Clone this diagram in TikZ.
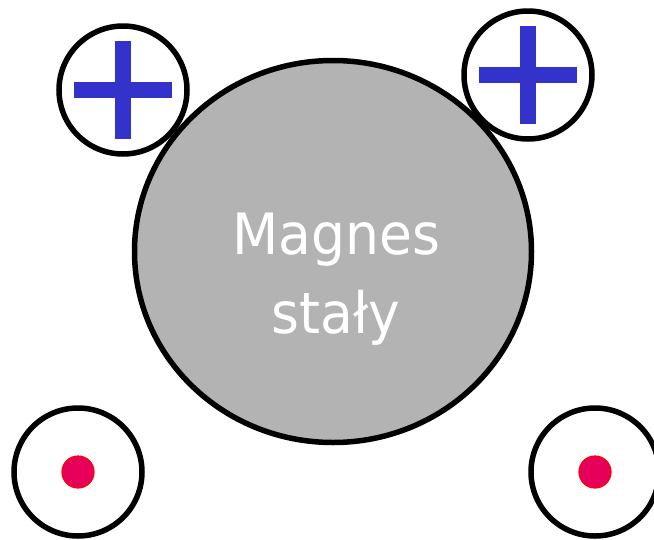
\documentclass[tikz,border=0pt]{standalone}
\usepackage{fontspec}
\newfontfamily\napisfont[FakeStretch=0.94]{DejaVu Sans}
\usetikzlibrary{shapes.geometric}
\definecolor{magszary}{RGB}{179,179,179}
\definecolor{plusnieb}{RGB}{51,51,204}
\definecolor{kropka}{RGB}{230,0,90}
\begin{document}
\begin{tikzpicture}[x=1pt,y=-1pt,
    magnes/.style={ellipse,draw,line width=5.5pt,fill=magszary,minimum width=397pt,minimum height=382pt,inner sep=0pt},
    ring/.style={circle,draw,line width=5.5pt,fill=white,minimum size=128pt,inner sep=0pt},
    dot/.style={circle,draw=red,line width=1.2pt,fill=kropka,minimum size=32pt,inner sep=0pt},
    plus/.style={plusnieb,line width=16pt},
    napis/.style={text=white,font=\napisfont\fontsize{57}{79}\selectfont,anchor=base,inner sep=0pt}]
    \useasboundingbox (0,0) rectangle (654,539);
    \clip (0,0) rectangle (654,539);
        \node[magnes] (mag) at (333,251.5) {};
        \node[napis] (linia1) at (336,254) {Magnes};
        \node[napis] (linia2) at (336,333) {stały};
        \node[ring] (lg) at (123,90) {};
        \node[ring] (pg) at (528,75) {};
        \node[ring] (ld) at (78,472) {};
        \node[ring] (pd) at (595,472) {};
        \foreach \k in {lg,pg} {
            \draw[plus] (\k.center)++(-49,0)--++(98,0);
            \draw[plus] (\k.center)++(0,-49)--++(0,98);
        }
        \node[dot] (kl) at (ld.center) {};
        \node[dot] (kp) at (pd.center) {};
    \end{tikzpicture}
\end{document}
